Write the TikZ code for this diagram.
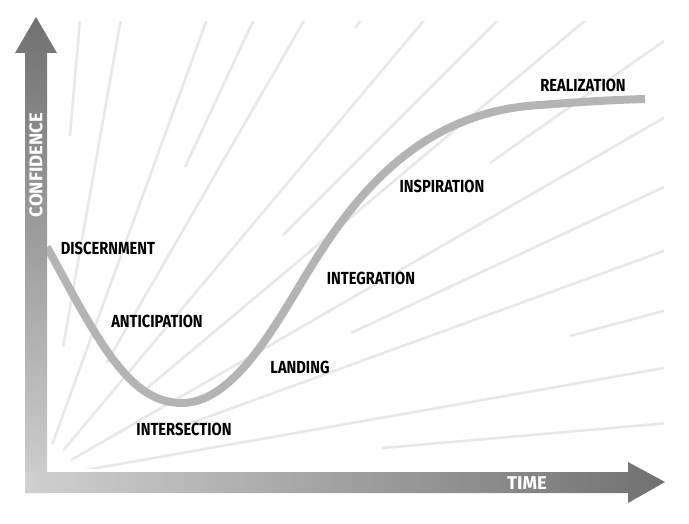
\documentclass[tikz,border=0pt]{standalone}
\usepackage{fontspec}
\usepackage{tikz}
\newfontfamily\stagefont{Fira Sans}[FakeStretch=0.84]
\newfontfamily\axisfont{Fira Sans}

\definecolor{raygray}{HTML}{E8E8E8}
\definecolor{curvegray}{HTML}{B4B4B4}
\definecolor{axisdark}{HTML}{717171}
\definecolor{axislight}{HTML}{D0D0D0}

\tikzset{
  ray/.style={draw=raygray,line width=2.6pt,line cap=round},
  curveline/.style={draw=curvegray,line width=8pt},
  stage/.style={inner sep=0pt,font=\stagefont\bfseries\fontsize{17.5}{17.5}\selectfont},
  axislabel/.style={inner sep=0pt,text=white,font=\axisfont\bfseries\fontsize{18.5}{18.5}\selectfont}
}

\begin{document}
\begin{tikzpicture}[x=1pt,y=1pt,yscale=-1,xscale=1]
\useasboundingbox (0,0) rectangle (689,524);
\fill[white] (0,0) rectangle (689,524);

\coordinate (O) at (40,478);

%rays
\begin{scope}
\clip (47,22) rectangle (664,468);
\foreach \ang/\rin in {5/344,10/37,15/550,20/134,25/344,30/37,35/550,40/134,
  45/344,50/37,55/550,60/134,65/344,70/37,75/550,80/134,85/344}
  \draw[ray] (O) ++(-\ang:\rin) -- ++(-\ang:800);
\end{scope}

%curve
\draw[curveline] (47,247) .. controls (100,345) and (130,403) .. (182,403)
  .. controls (230,403) and (270,335) .. (300,285)
  .. controls (345,210) and (410,112) .. (540,105)
  .. controls (580,102) and (610,100) .. (645,99);

%y axis
\shade[top color=axisdark,bottom color=axislight]
  (25,493) -- (25,53) -- (15,53) -- (36,17) -- (57,53) -- (47,53) -- (47,493) -- cycle;
%x axis
\shade[left color=axislight,middle color=axislight!85!axisdark,right color=axisdark]
  (25,472) -- (628,472) -- (628,462) -- (665,482) -- (628,503) -- (628,493) -- (25,493) -- cycle;

\node[axislabel,rotate=90] (conf) at (36,165) {CONFIDENCE};
\node[axislabel] (time) at (527,483) {TIME};

% Text Node
\node[stage] (disc) at (108,248) {DISCERNMENT};
\node[stage] (anti) at (157,321) {ANTICIPATION};
\node[stage] (inter) at (184,429) {INTERSECTION};
\node[stage] (land) at (300,367) {LANDING};
\node[stage] (integ) at (371,278) {INTEGRATION};
\node[stage] (insp) at (442,186) {INSPIRATION};
\node[stage] (real) at (583,85) {REALIZATION};

\end{tikzpicture}
\end{document}
